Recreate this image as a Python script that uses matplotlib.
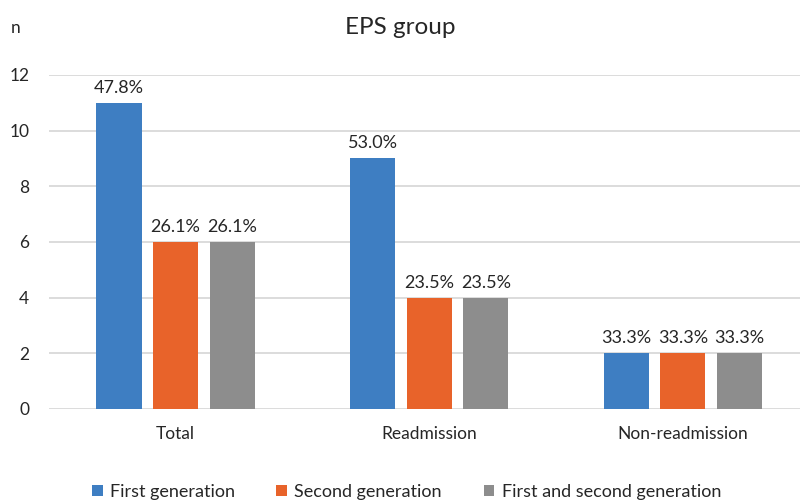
import matplotlib.pyplot as plt
import numpy as np

plt.rcParams['font.family'] = ['Lato', 'DejaVu Sans']

# data
categories = ["Total", "Readmission", "Non-readmission"]
series_names = ["First generation", "Second generation", "First and second generation"]
first_gen = [11, 9, 2]
second_gen = [6, 4, 2]
both_gen = [6, 4, 2]
first_pct = ["47.8%", "53.0%", "33.3%"]
second_pct = ["26.1%", "23.5%", "33.3%"]
both_pct = ["26.1%", "23.5%", "33.3%"]
y_ticks = [0, 2, 4, 6, 8, 10, 12]

colors = ["#3E7EC2", "#E8632A", "#8D8D8D"]

fig = plt.figure(figsize=(8, 5.04), dpi=100)
ax = fig.add_axes([0.061, 0.1885, 0.951, 0.663])

x = np.arange(len(categories))
width = 0.178
offset = 0.223

all_vals = [first_gen, second_gen, both_gen]
all_pct = [first_pct, second_pct, both_pct]
for i, (vals, pcts) in enumerate(zip(all_vals, all_pct)):
    pos = x + (i - 1) * offset
    bars = ax.bar(pos, vals, width, color=colors[i], label=series_names[i], zorder=3)
    for b, p in zip(bars, pcts):
        ax.annotate(p, (b.get_x() + b.get_width() / 2, b.get_height()),
                    xytext=(0, 5), textcoords="offset points",
                    ha="center", va="bottom", fontsize=13, color="#262626")

ax.set_xlim(-0.5, 2.5)
ax.set_ylim(0, 12)
ax.set_yticks(y_ticks)
ax.set_xticks(x)
ax.set_xticklabels(categories)
ax.tick_params(axis="both", length=0, labelsize=12.5, colors="#262626")
ax.tick_params(axis="x", pad=12)
ax.tick_params(axis="y", pad=14)
ax.grid(axis="y", color="#D9D9D9", linewidth=1.3, zorder=0)
for s in ax.spines.values():
    s.set_visible(False)

fig.text(0.5, 0.945, "EPS group", ha="center", va="center", fontsize=17.5, color="#262626")
fig.text(0.014, 0.945, "n", ha="left", va="center", fontsize=12.5, color="#262626")

fig.legend(loc="center", bbox_to_anchor=(0.508, 0.024), ncol=3, frameon=False,
           fontsize=13, handlelength=0.6, handleheight=0.6, handletextpad=0.4,
           columnspacing=2.3, labelcolor="#262626")

fig.savefig("out.png", dpi=100)
